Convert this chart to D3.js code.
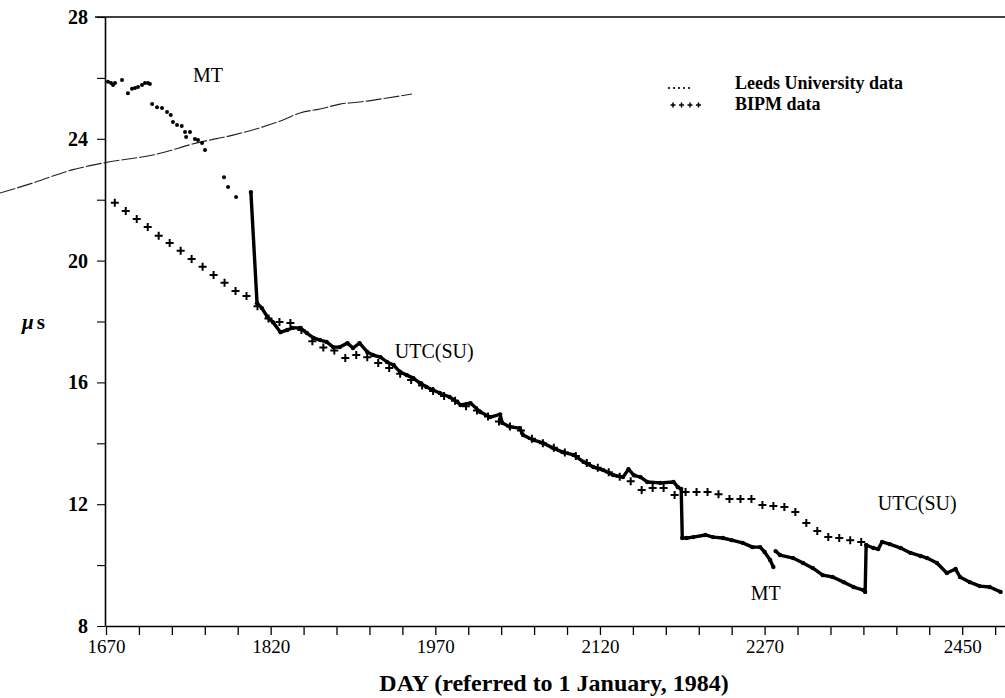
<!DOCTYPE html>
<html><head><meta charset="utf-8">
<script src="https://cdn.jsdelivr.net/npm/d3@7"></script>
<style>
body{margin:0;background:#fff}
svg{display:block}
text{font-family:"Liberation Serif","Times New Roman",serif;fill:#000}
</style>
</head><body>
<svg id="c" width="1005" height="698"></svg>
<script>
// ---- tick labels ----
const xTickLabels = [1670, 1820, 1970, 2120, 2270, 2450];
const xMinorTicks = [1670,1700,1730,1760,1790,1820,1850,1880,1910,1940,1970,2000,2030,2060,2090,2120,2150,2180,2210,2240,2270,2300,2330,2360,2390,2420,2450,2480];
const yTickLabels = [8, 12, 16, 20, 24, 28];
const yMinorTicks = [10, 14, 18, 22, 26];

// ---- BIPM data (crosses, every 10 days) ----
const bipmDay = [1678,1688,1698,1708,1718,1728,1738,1748,1758,1768,1778,1788,1798,1808,1818,1828,1838,1848,1858,1868,1878,1888,1898,1908,1918,1928,1938,1948,1958,1968,1978,1988,1998,2008,2018,2028,2038,2048,2058,2068,2078,2088,2098,2108,2118,2128,2138,2148,2158,2168,2178,2188,2198,2208,2218,2228,2238,2248,2258,2268,2278,2288,2298,2308,2318,2328,2338,2348,2358];
const bipmVal = [21.90,21.63,21.37,21.10,20.82,20.58,20.32,20.05,19.80,19.53,19.27,19.00,18.84,18.50,18.10,17.98,17.95,17.72,17.35,17.15,17.05,16.80,16.90,16.83,16.64,16.47,16.28,16.08,15.90,15.72,15.55,15.40,15.22,15.08,14.88,14.72,14.55,14.42,14.15,14.00,13.85,13.70,13.58,13.35,13.20,13.05,12.90,12.75,12.47,12.53,12.53,12.30,12.40,12.40,12.40,12.33,12.17,12.17,12.17,11.97,11.94,11.91,11.74,11.38,11.12,10.92,10.89,10.82,10.76];

// ---- Leeds University data: early scattered points ----
const leedsDotDay = [1671.8,1674.6,1676.4,1678.2,1684.6,1690,1693.7,1696.4,1699.2,1702.8,1705.5,1708.3,1710,1712,1716.5,1721,1725.6,1729,1731,1734.7,1739,1742,1743,1746.5,1751,1753.8,1757.5,1760.2,1777.5,1781.2,1788.5];
const leedsDotVal = [25.87,25.83,25.77,25.83,25.93,25.50,25.64,25.67,25.70,25.77,25.83,25.83,25.80,25.14,25.04,25.01,24.88,24.78,24.55,24.45,24.42,24.22,24.06,24.22,23.99,23.96,23.86,23.63,22.74,22.42,22.09];

// ---- Leeds University data: dense trace (null = gap) ----
const leedsDay = [1802,1807.6,1812,1817,1822,1829,1835,1840,1847,1853,1859,1865,1871,1877,1883,1890,1895,1901,1908,1913,1920,1926,1932,1938,1944,1950,1956,1962,1968,1974,1983,1990,1993,2002,2011,2020,2029,2031,2038,2047,2050,2059,2068,2077,2086,2096,2105,2114,2123,2132,2141,2146,2151,2157,2163,2175,2187,2191,2194,2195,2199,2205,2216,2223,2232,2240,2250,2259,2266,2270,2275,2278,null,2280,2284,2296,2305,2314,2323,2332,2342,2351,2360,2361.6,2362.5,2369,2373.5,2377,2384,2394,2403,2412,2418,2427,2436,2444,2448,2457,2466,2475,2485];
const leedsVal = [22.25,18.60,18.44,18.15,17.98,17.65,17.72,17.79,17.79,17.62,17.46,17.39,17.33,17.16,17.16,17.29,17.13,17.29,17.00,16.90,16.83,16.67,16.57,16.34,16.24,16.14,15.98,15.85,15.75,15.65,15.52,15.36,15.26,15.32,15.03,14.86,14.95,14.67,14.54,14.50,14.27,14.11,14.01,13.85,13.71,13.62,13.39,13.22,13.12,12.96,12.89,13.15,12.95,12.89,12.73,12.70,12.73,12.56,12.50,10.89,10.89,10.92,10.99,10.92,10.89,10.82,10.73,10.59,10.59,10.43,10.17,9.94,null,10.46,10.33,10.23,10.07,9.90,9.67,9.61,9.44,9.28,9.18,9.12,10.66,10.56,10.53,10.76,10.69,10.56,10.40,10.30,10.23,10.07,9.74,9.87,9.61,9.44,9.31,9.28,9.12];

// ---- thin curve crossing the upper left ----
const curveDay = [1573.4,1603.5,1639.0,1668.2,1712.8,1755.7,1785.7,1831.3,1846.8,1865.0,1883.2,1901.5,1926.1,1948.8];
const curveVal = [22.22,22.55,22.98,23.21,23.47,23.89,24.12,24.62,24.85,24.98,25.14,25.21,25.34,25.47];

// ---- labels ----
const annotations = [
  {text:"MT", day:1763, val:25.87},
  {text:"UTC(SU)", day:1969, val:16.8},
  {text:"UTC(SU)", day:2409, val:11.81},
  {text:"MT", day:2271, val:8.85}
];
const legendItems = ["Leeds University data", "BIPM data"];

const svg = d3.select("#c");
const x = d3.scaleLinear().domain([1670, 2489]).range([106, 1005]);
const y = d3.scaleLinear().domain([8, 28]).range([626, 17]);

// frame line at top
svg.append("line").attr("x1",95).attr("x2",1005).attr("y1",y(28)).attr("y2",y(28)).attr("stroke","#000").attr("stroke-width",1.4);

// x axis
const xAxis = d3.axisBottom(x).tickValues(xMinorTicks).tickSize(9).tickSizeOuter(0).tickFormat("");
const gx = svg.append("g").attr("transform","translate(0,626)").call(xAxis);
gx.select(".domain").attr("stroke-width",1.4);
gx.selectAll(".tick line").attr("stroke-width",1.3);
const xl = d3.axisBottom(x).tickValues(xTickLabels).tickSize(0).tickFormat(d3.format("d"));
const gxl = svg.append("g").attr("transform","translate(0,626)").call(xl);
gxl.select(".domain").remove();
gxl.selectAll("text").attr("dy","1.25em").style("font-size","19px").style("font-family","'Liberation Serif',serif");

// y axis
const yAxis = d3.axisLeft(y).tickValues(yTickLabels.concat(yMinorTicks)).tickSize(8).tickSizeOuter(0)
  .tickFormat(d => yTickLabels.includes(d) ? d : "");
const gy = svg.append("g").attr("transform","translate(105,0)").call(yAxis);
gy.select(".domain").attr("stroke-width",1.6);
gy.selectAll(".tick line").attr("stroke-width",1.1);
gy.selectAll("text").attr("x",-17).style("font-size","20px").style("font-weight","bold").style("font-family","'Liberation Serif',serif");

// axis titles
svg.append("text").attr("x",554).attr("y",691).attr("text-anchor","middle")
  .style("font-size","24px").style("font-weight","bold").text("DAY (referred to 1 January, 1984)");
const mu = svg.append("text").attr("x",22).attr("y",329).style("font-size","21px").style("font-weight","bold");
mu.append("tspan").style("font-style","italic").text("\u03bc");
mu.append("tspan").attr("dx",3).text("s");

// thin curve
const curvePts = curveDay.map((d,i)=>[d,curveVal[i]]);
svg.append("path").datum(curvePts)
  .attr("d", d3.line().x(d=>x(d[0])).y(d=>y(d[1])).curve(d3.curveMonotoneX))
  .attr("fill","none").attr("stroke","#222").attr("stroke-width",1.1).attr("stroke-dasharray","16,2");

// Leeds dots
const dotPts = leedsDotDay.map((d,i)=>[d,leedsDotVal[i]]);
svg.append("g").selectAll("circle").data(dotPts).join("circle")
  .attr("cx",d=>x(d[0])).attr("cy",d=>y(d[1])).attr("r",2).attr("fill","#000");

// Leeds trace
const tracePts = leedsDay.map((d,i)=>[d,leedsVal[i]]);
svg.append("path").datum(tracePts)
  .attr("d", d3.line().defined(d=>d[0]!==null && d[1]!==null).x(d=>x(d[0])).y(d=>y(d[1])))
  .attr("fill","none").attr("stroke","#000").attr("stroke-width",3.4).attr("stroke-linejoin","round");
svg.append("g").selectAll("circle").data(tracePts.filter(d=>d[0]!==null)).join("circle")
  .attr("cx",d=>x(d[0])).attr("cy",d=>y(d[1])).attr("r",2.2).attr("fill","#000");

// BIPM crosses
const crossPts = bipmDay.map((d,i)=>[d,bipmVal[i]]);
svg.append("g").selectAll("path").data(crossPts).join("path")
  .attr("d",d=>{const cx=x(d[0]), cy=y(d[1]); return `M${cx-4},${cy}H${cx+4}M${cx},${cy-4}V${cy+4}`;})
  .attr("stroke","#000").attr("stroke-width",2).attr("fill","none");

// annotations
svg.append("g").selectAll("text").data(annotations).join("text")
  .attr("x",d=>x(d.day)).attr("y",d=>y(d.val)).attr("text-anchor","middle")
  .style("font-size","20px").text(d=>d.text);

// legend
const lg = svg.append("g");
lg.selectAll("circle").data(d3.range(5)).join("circle")
  .attr("cx",i=>669+i*5).attr("cy",88).attr("r",1.1).attr("fill","#000");
lg.selectAll("path").data(d3.range(4)).join("path")
  .attr("d",i=>{const cx=673+i*8.5, cy=105; return `M${cx-2.5},${cy}H${cx+2.5}M${cx},${cy-2.5}V${cy+2.5}`;})
  .attr("stroke","#000").attr("stroke-width",1.5);
lg.selectAll("text").data(legendItems).join("text")
  .attr("x",735).attr("y",(d,i)=>89+i*21).style("font-size","18px").style("font-weight","bold").text(d=>d);
</script>
</body></html>
